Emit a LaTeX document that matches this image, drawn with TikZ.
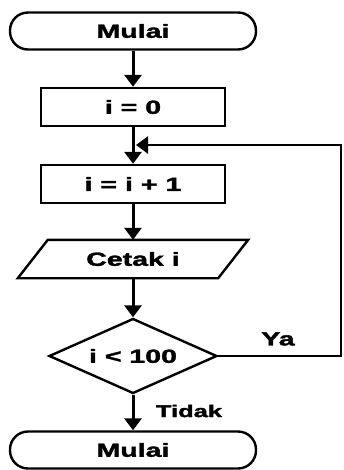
\documentclass[tikz,border=0pt]{standalone}
\usepackage{fontspec}
\setmainfont{Liberation Sans}[BoldFeatures={FakeBold=1.6}]
\usepackage{graphicx}
\usetikzlibrary{arrows.meta,shapes.geometric}
% wide bold lettering used throughout the chart
\newcommand\flowtext[1]{\scalebox{1.5}[1]{\bfseries #1}}
\begin{document}
\begin{tikzpicture}[x=1pt,y=-1pt,
  every node/.style={font=\fontsize{19}{22}\selectfont},
  term/.style={draw,line width=2.4pt,rounded corners=18pt,minimum width=246pt,minimum height=37pt,inner sep=0pt},
  proc/.style={draw,line width=2.4pt,minimum width=184pt,minimum height=38pt,inner sep=0pt},
  io/.style={minimum width=200pt,minimum height=38pt,inner sep=0pt},
  decide/.style={draw,diamond,aspect=2.24,line width=2.4pt,minimum width=168pt,minimum height=75pt,inner sep=0pt},
  flow/.style={line width=3pt,-{Triangle[length=12pt,width=17pt]}},
  tag/.style={font=\fontsize{17}{20}\selectfont}]
\useasboundingbox (0,0) rectangle (343,470);

% nodes
\node[term] (start) at (133,31) {\flowtext{Mulai}};
\node[proc] (init) at (133,107) {\flowtext{i = 0}};
\node[proc] (inc) at (133,184) {\flowtext{i = i + 1}};
\node[io] (out) at (133,259) {\flowtext{Cetak i}};
\draw[line width=2.4pt,line join=miter] ([xshift=15pt]out.north west) -- ([xshift=15pt]out.north east)
  -- ([xshift=-15pt]out.south east) -- ([xshift=-15pt]out.south west) -- cycle;
\node[decide] (test) at (133,356) {\flowtext{i < 100}};
\node[term] (stop) at (133,450) {\flowtext{Mulai}};

% loop-back points
\coordinate (back) at (136,145);
\coordinate (corner) at (341,145);

% connectors
\draw[flow] (start) -- (init);
\draw[flow] (init) -- (inc);
\draw[flow] (inc) -- (out);
\draw[flow] (out.south) -- (test);
\draw[flow] (test) -- (stop);
\draw[flow,line width=2.4pt] (test.east) -| (corner) -- (back);

% branch labels
\node (ya) at (278,339) {\flowtext{Ya}};
\node[tag] (tidak) at (189,411) {\flowtext{Tidak}};
\end{tikzpicture}
\end{document}
